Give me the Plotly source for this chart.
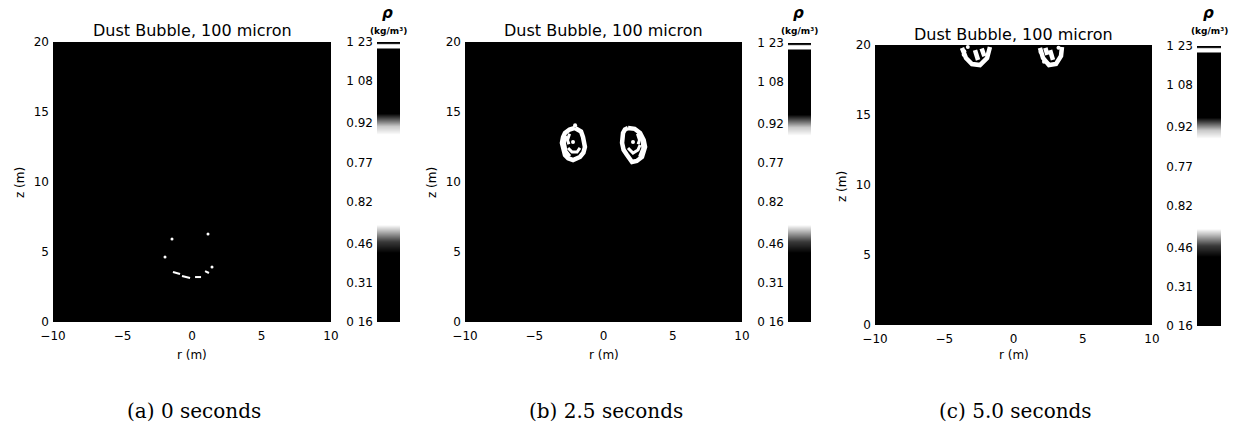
import plotly.graph_objects as go

# ---------------- data ----------------
panel_titles = ["Dust Bubble, 100 micron"] * 3
captions = ["(a) 0 seconds", "(b) 2.5 seconds", "(c) 5.0 seconds"]
r_ticks = [-10, -5, 0, 5, 10]
z_ticks = [0, 5, 10, 15, 20]

# density colour-bar levels (kg/m^3) and their printed labels
cbar_values = [0.16, 0.31, 0.46, 0.62, 0.77, 0.92, 1.08, 1.23]
cbar_labels = ["0 16", "0.31", "0.46", "0.82", "0.77", "0.92", "1 08", "1 23"]

# (a) 0 s : faint fragments of the initial bubble edge (r, z in m)
a_seg_r = [-1.37, -0.86, None, -0.72, -0.14, None, 0.22, 0.65, None, 0.94, 1.22]
a_seg_z = [3.57, 3.43, None, 3.29, 3.14, None, 3.21, 3.21, None, 3.64, 3.50]
a_dot_r = [1.44, -1.94, -1.44, 1.15]
a_dot_z = [3.93, 4.64, 5.93, 6.29]

# (b) 2.5 s : two rising vortex-ring cross sections
b_left_r = [-2.06, -1.62, -1.48, -1.34, -1.45, -1.70, -2.20, -2.55, -2.78, -3.00, -2.92, -2.78, -2.45, -2.06]
b_left_z = [13.86, 13.60, 13.21, 12.50, 12.10, 11.79, 11.57, 11.70, 11.93, 12.79, 13.20, 13.50, 13.75, 13.86]
b_left_in_r = [-2.56, -2.27, -1.91, -1.70, None, -2.45, -2.60, -2.50, None, -2.70, -2.82, -2.70, -2.42]
b_left_in_z = [12.43, 12.14, 12.14, 12.43, None, 13.45, 13.00, 12.70, None, 13.30, 12.80, 12.20, 11.85]
b_right_r = [1.77, 2.25, 2.64, 2.90, 3.00, 2.78, 2.40, 2.06, 1.70, 1.45, 1.34, 1.41, 1.55, 1.77]
b_right_z = [13.86, 13.80, 13.50, 13.00, 12.50, 11.79, 11.50, 11.43, 11.93, 12.30, 12.79, 13.50, 13.75, 13.86]
b_right_in_r = [1.77, 2.13, 2.49, 2.64, None, 2.45, 2.60, 2.50, None, 2.50, 2.78, 2.84, 2.60]
b_right_in_z = [12.43, 12.07, 12.29, 12.64, None, 13.45, 13.00, 12.70, None, 13.50, 13.00, 12.40, 11.80]
b_dot_r = [-2.20, 2.13, -2.05]
b_dot_z = [12.86, 12.86, 14.05]

# (c) 5.0 s : rings reaching the top of the domain
c_left_r = [-1.70, -1.91, -2.42, -3.00, -3.43, -3.72, None, -2.78, -2.56, None, -2.30, -2.10]
c_left_z = [19.86, 19.07, 18.57, 18.64, 19.07, 19.79, None, 19.64, 18.93, None, 19.75, 19.20]
c_right_r = [1.91, 2.13, 2.56, 3.07, 3.43, 3.50, None, 2.64, 2.85, None, 2.30, 2.45]
c_right_z = [19.79, 19.07, 18.57, 18.64, 19.21, 19.86, None, 19.64, 18.93, None, 19.80, 19.30]
c_dot_r = [-3.55, -3.30, -3.60, 1.95, 3.25, 2.20]
c_dot_z = [19.55, 19.85, 19.30, 19.50, 19.80, 18.80]

# ---------------- layout geometry ----------------
W, H = 1235, 444
def fx(px):
    return px / W
def fy(py):
    return 1 - py / H

panels = [  # plot area (x0, x1, y_top, y_bottom) in px, colourbar x0, x1, y_top, y_bottom
    dict(x=(53, 331), y=(42, 322), cb=(377, 400), cby=(42, 322)),
    dict(x=(465, 742), y=(42, 322), cb=(788, 811), cby=(43, 322)),
    dict(x=(875, 1152), y=(45, 325), cb=(1197, 1221), cby=(46, 326)),
]

colorscale = [
    [0.00, "#000000"], [0.25, "#000000"], [0.29, "#3a3a3a"], [0.33, "#c0c0c0"],
    [0.35, "#ffffff"], [0.67, "#ffffff"], [0.70, "#c8c8c8"], [0.73, "#404040"],
    [0.745, "#000000"],
    [0.975, "#000000"], [0.982, "#ffffff"], [0.992, "#ffffff"], [0.997, "#000000"],
    [1.00, "#000000"],
]

fig = go.Figure()
tick_font = dict(family="DejaVu Sans", size=12, color="black")

layout = dict(
    width=W, height=H, margin=dict(l=0, r=0, t=0, b=0, autoexpand=False),
    paper_bgcolor="white", plot_bgcolor="black", showlegend=False,
)
annotations = []

for i, p in enumerate(panels):
    n = i + 1
    ax_sfx = "" if n == 1 else str(n)
    cb_n = n + 3
    # main axes
    layout["xaxis" + ax_sfx] = dict(
        domain=[fx(p["x"][0]), fx(p["x"][1])], range=[-10, 10], anchor="y" + ax_sfx,
        tickvals=r_ticks, ticks="", showgrid=False, zeroline=False, showline=False,
        tickfont=tick_font, ticklabelstandoff=5, automargin=False,
    )
    layout["yaxis" + ax_sfx] = dict(
        domain=[fy(p["y"][1]), fy(p["y"][0])], range=[0, 20], anchor="x" + ax_sfx,
        tickvals=z_ticks, ticks="", showgrid=False, zeroline=False, showline=False,
        tickfont=tick_font, ticklabelstandoff=3, automargin=False,
    )
    # colourbar axes
    layout["xaxis%d" % cb_n] = dict(
        domain=[fx(p["cb"][0]), fx(p["cb"][1])], range=[0, 1], anchor="y%d" % cb_n,
        visible=False, automargin=False,
    )
    layout["yaxis%d" % cb_n] = dict(
        domain=[fy(p["cby"][1]), fy(p["cby"][0])], range=[cbar_values[0], cbar_values[-1]],
        anchor="x%d" % cb_n, side="left", tickvals=cbar_values, ticktext=cbar_labels,
        ticks="", showgrid=False, zeroline=False, showline=False,
        tickfont=tick_font, ticklabelstandoff=3, automargin=False,
    )
    fig.add_trace(go.Heatmap(
        x=[0, 1], y=cbar_values, z=[[v, v] for v in cbar_values],
        zmin=cbar_values[0], zmax=cbar_values[-1], colorscale=colorscale,
        zsmooth="best", showscale=False, hoverinfo="skip",
        xaxis="x%d" % cb_n, yaxis="y%d" % cb_n,
    ))

    cx = (p["x"][0] + p["x"][1]) / 2
    cbx = (p["cb"][0] + p["cb"][1]) / 2
    annotations += [
        dict(text=panel_titles[i], x=fx(cx), y=fy(p["y"][0] - 11), xref="paper", yref="paper",
             showarrow=False, font=dict(family="DejaVu Sans", size=16, color="black"),
             xanchor="center", yanchor="middle"),
        dict(text="r (m)", x=fx(cx), y=fy(355), xref="paper", yref="paper",
             showarrow=False, font=dict(family="DejaVu Sans", size=12, color="black"),
             xanchor="center", yanchor="middle"),
        dict(text="z (m)", x=fx(p["x"][0] - 33), y=fy(183 + (p["y"][0] - 42)), xref="paper", yref="paper",
             showarrow=False, textangle=-90, font=dict(family="DejaVu Sans", size=12, color="black"),
             xanchor="center", yanchor="middle"),
        dict(text=captions[i], x=fx(cx + 2), y=fy(411), xref="paper", yref="paper",
             showarrow=False, font=dict(family="DejaVu Serif", size=20, color="black"),
             xanchor="center", yanchor="middle"),
        dict(text="<i><b>ρ</b></i>", x=fx(cbx - 1), y=fy(13), xref="paper", yref="paper",
             showarrow=False, font=dict(family="DejaVu Sans", size=15, color="black"),
             xanchor="center", yanchor="middle"),
        dict(text="<b>(kg/m³)</b>", x=fx(cbx), y=fy(31), xref="paper", yref="paper",
             showarrow=False, font=dict(family="DejaVu Sans", size=9, color="black"),
             xanchor="center", yanchor="middle"),
    ]

white_line = dict(color="white", width=4.5)
white_thin = dict(color="white", width=3)
white_dot = dict(color="white", size=4)

def add(xs, ys, n, mode, line=None, marker=None):
    sfx = "" if n == 1 else str(n)
    kw = dict(x=xs, y=ys, mode=mode, xaxis="x" + sfx, yaxis="y" + sfx, hoverinfo="skip")
    if line is not None:
        kw["line"] = line
    if marker is not None:
        kw["marker"] = marker
    fig.add_trace(go.Scatter(**kw))

# panel (a)
add(a_seg_r, a_seg_z, 1, "lines", line=dict(color="white", width=2))
add(a_dot_r, a_dot_z, 1, "markers", marker=dict(color="white", size=3))
# panel (b)
add(b_left_r, b_left_z, 2, "lines", line=white_line)
add(b_left_in_r, b_left_in_z, 2, "lines", line=white_thin)
add(b_right_r, b_right_z, 2, "lines", line=white_line)
add(b_right_in_r, b_right_in_z, 2, "lines", line=white_thin)
add(b_dot_r, b_dot_z, 2, "markers", marker=white_dot)
# panel (c)
add(c_left_r, c_left_z, 3, "lines", line=white_line)
add(c_right_r, c_right_z, 3, "lines", line=white_line)
add(c_dot_r, c_dot_z, 3, "markers", marker=white_dot)

layout["annotations"] = annotations
fig.update_layout(**layout)
fig.write_html(
    "out.html",
    config={"displayModeBar": False},
    post_script="document.body.style.margin='0';document.body.style.overflow='hidden';",
)
